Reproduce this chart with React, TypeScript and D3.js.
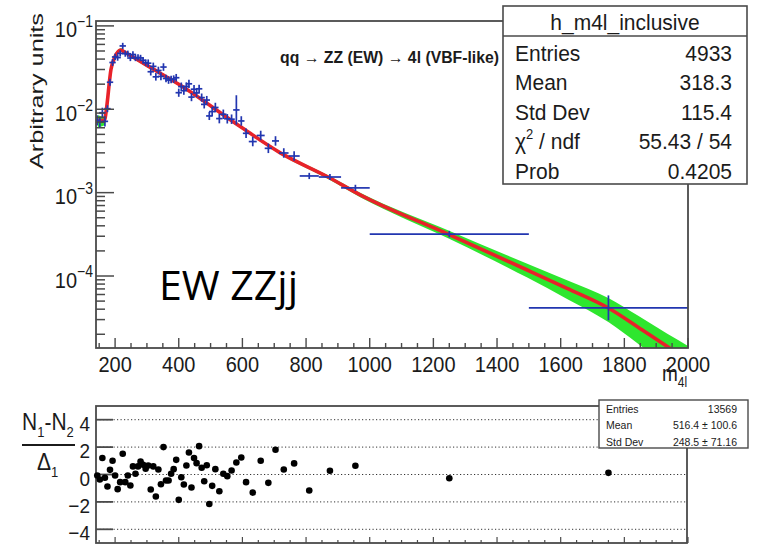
import React from 'react';
import * as d3 from 'd3';

// ---------- data ----------
const binEdges = [
  140, 148, 156, 164, 172, 180, 188, 196, 204, 212, 220, 228, 236, 244, 252, 260, 268, 276, 284, 292,
  300, 308, 316, 324, 332, 340, 348, 356, 364, 372, 380, 388, 396, 404, 412, 420, 428, 436, 444, 452,
  460, 468, 476, 484, 492, 500, 510, 520, 535, 545, 560, 572, 590, 603, 620, 645, 670, 693, 715, 745,
  780, 840, 910, 1000, 1500, 2000,
];

const dataValues = [
  7.36e-3, 7.0e-3, 9.08e-3, 7.16e-3, 1.016e-2, 2.11e-2, 3.64e-2, 4.24e-2, 4.17e-2, 4.68e-2,
  5.75e-2, 4.65e-2, 4.63e-2, 4.12e-2, 4.54e-2, 4.12e-2, 4.18e-2, 4.13e-2, 3.87e-2, 3.62e-2,
  3.57e-2, 2.82e-2, 3.27e-2, 2.45e-2, 2.92e-2, 2.48e-2, 3.21e-2, 2.34e-2, 2.24e-2, 2.28e-2,
  2.30e-2, 2.39e-2, 1.58e-2, 1.87e-2, 1.67e-2, 1.88e-2, 2.02e-2, 1.40e-2, 1.74e-2, 1.57e-2,
  1.76e-2, 1.38e-2, 1.145e-2, 1.29e-2, 8.32e-3, 9.38e-3, 1.05e-2, 7.73e-3, 8.71e-3, 7.69e-3,
  7.60e-3, 9.82e-3, 7.24e-3, 5.15e-3, 4.10e-3, 4.85e-3, 3.40e-3, 4.17e-3, 2.99e-3, 2.75e-3,
  1.585e-3, 1.54e-3, 1.14e-3, 3.18e-4, 4.15e-5,
];

const dataRelErr = [
  0.15, 0.15, 0.15, 0.15, 0.1, 0.1, 0.1, 0.09, 0.09, 0.09,
  0.09, 0.09, 0.09, 0.09, 0.09, 0.09, 0.09, 0.09, 0.09, 0.09,
  0.11, 0.11, 0.11, 0.11, 0.11, 0.11, 0.11, 0.11, 0.11, 0.11,
  0.11, 0.11, 0.12, 0.12, 0.12, 0.12, 0.12, 0.12, 0.12, 0.12,
  0.12, 0.12, 0.12, 0.12, 0.12, 0.14, 0.14, 0.14, 0.14, 0.14,
  0.14, 0.5, 0.14, 0.14, 0.14, 0.14, 0.14, 0.14, 0.14, 0.14,
  0.09, 0.09, 0.09, 0.095, 0.41,
];

const residuals = [
  -0.07, -0.37, 1.2, -0.24, -0.88, 0.34, 1.0, -0.07, -1.07, -0.56,
  1.51, -0.56, -0.07, -0.8, 0.59, 0.05, 0.59, 0.95, 0.71, 0.42,
  0.66, -1.1, 0.59, -1.61, 0.37, -0.71, 2.0, -0.44, -0.44, 0.05,
  0.39, 1.07, -1.85, -0.2, -0.73, 0.66, 1.61, -0.95, 1.2, 0.83,
  2.07, 0.49, -0.49, 0.68, -2.15, -0.83, 0.39, -1.22, 0.05, -0.12,
  0.29, 0.88, 1.24, -0.56, -1.32, 1.0, -0.61, 1.81, 0.37, 0.81,
  -1.17, 0.27, 0.64, -0.27, 0.12,
];

const fitMass = [146, 167, 172, 187, 200, 218, 228, 300, 404, 593, 719, 866, 970, 1253, 1495, 1620, 1751, 1841, 1935, 2000];
const fitValues = [
  7.3e-3, 7.3e-3, 9.5e-3, 3.0e-2, 4.3e-2, 5.15e-2, 4.9e-2, 3.36e-2, 1.95e-2, 6.2e-3,
  3.0e-3, 1.56e-3, 9.4e-4, 3.1e-4, 1.18e-4, 7.1e-5, 4.1e-5, 2.47e-5, 1.43e-5, 1.0e-5,
];

const bandMass = [146, 170, 190, 220, 400, 700, 1000, 1250, 1500, 1750, 2000];
const bandRelWidth = [0.16, 0.11, 0.07, 0.045, 0.035, 0.04, 0.065, 0.11, 0.19, 0.32, 0.45];

const xMajorTicks = [200, 400, 600, 800, 1000, 1200, 1400, 1600, 1800, 2000];
const yDecades = [-1, -2, -3, -4];
const residualTicks = [4, 2, 0, -2, -4];

const statsRows = [
  ['Entries', '4933'],
  ['Mean', '318.3'],
  ['Std Dev', '115.4'],
  ['chi2', '55.43 / 54'],
  ['Prob', '0.4205'],
];
const residualStatsRows = [
  ['Entries', '13569'],
  ['Mean', '516.4 \u00b1 100.6'],
  ['Std Dev', '248.5 \u00b1 71.16'],
];

// ---------- styling ----------
const FONT = "'Liberation Sans', Arial, Helvetica, sans-serif";
const INK = '#1b1b1b';
const FRAME = '#4a4a4a';
const BLUE = '#2236b0';
const RED = '#e8222a';
const GREEN = '#2ee62e';

function Txt(props: any) {
  const { x, y, size, sy = 1.12, anchor = 'start', weight = 'normal', family = FONT, fill = INK, tl, children } = props;
  const extra: any = tl ? { textLength: tl, lengthAdjust: 'spacingAndGlyphs' } : {};
  return (
    <text
      transform={`translate(${x},${y}) scale(1,${sy})`}
      fontSize={size}
      textAnchor={anchor}
      fontFamily={family}
      fontWeight={weight}
      fill={fill}
      {...extra}
    >
      {children}
    </text>
  );
}

export default function App() {
  const L = 96, R = 688, T = 21, B = 348;
  const x = d3.scaleLinear().domain([140, 2000]).range([L, R]);
  const y = d3.scaleLog().domain([1.369e-5, 0.1145]).range([B, T]);
  const RT = 406, RB = 543, RR = 687;
  const yr = d3.scaleLinear().domain([-5, 5]).range([RB, RT]);

  const bins = dataValues.map((v, i) => ({
    lo: binEdges[i],
    hi: binEdges[i + 1],
    c: (binEdges[i] + binEdges[i + 1]) / 2,
    v,
    e: dataRelErr[i],
    r: residuals[i],
  }));

  const fitPts = fitMass.map((m, i) => ({ m, v: fitValues[i] }));
  const bandS = d3.scaleLinear().domain(bandMass).range(bandRelWidth).clamp(true);

  const fitLine = d3
    .line<any>()
    .x((d) => x(d.m))
    .y((d) => y(d.v))
    .curve(d3.curveMonotoneX);
  const band = d3
    .area<any>()
    .x((d) => x(d.m))
    .y0((d) => y(Math.max(d.v * (1 - bandS(d.m)), 1e-7)))
    .y1((d) => y(d.v * (1 + bandS(d.m))))
    .curve(d3.curveMonotoneX);

  // log ticks
  const logTicks: { v: number; major: boolean }[] = [];
  for (let k = -5; k <= -1; k++) {
    for (let j = 1; j <= 9; j++) {
      const v = j * Math.pow(10, k);
      if (v >= y.domain()[0] && v <= y.domain()[1]) logTicks.push({ v, major: j === 1 });
    }
  }
  const xMinor = d3.range(150, 2001, 50);

  return (
    <svg width={760} height={545} style={{ position: 'absolute', left: 0, top: 0, background: '#fff' }}>
      <defs>
        <clipPath id="topclip">
          <rect x={L} y={T} width={R - L} height={B - T} />
        </clipPath>
      </defs>
      <rect x={0} y={0} width={760} height={545} fill="#fff" />

      {/* ---------- top panel ---------- */}
      <g clipPath="url(#topclip)">
        <path d={band(fitPts) || ''} fill={GREEN} />
        <path d={fitLine(fitPts) || ''} fill="none" stroke={RED} strokeWidth={3.6} strokeLinejoin="round" />
        {bins.map((b, i) => {
          const cx = x(b.c);
          const cy = y(b.v);
          const hw = Math.max((x(b.hi) - x(b.lo)) / 2, 3.2);
          return (
            <g key={i} stroke={BLUE} strokeWidth={1.7}>
              <line x1={cx - hw} x2={cx + hw} y1={cy} y2={cy} />
              <line x1={cx} x2={cx} y1={y(b.v * (1 + b.e))} y2={y(b.v / (1 + b.e))} />
            </g>
          );
        })}
      </g>

      {/* y ticks */}
      {logTicks.map((t, i) => (
        <line key={i} x1={L} x2={L + (t.major ? 18 : 9)} y1={y(t.v)} y2={y(t.v)} stroke={FRAME} strokeWidth={1.5} />
      ))}
      {/* x ticks */}
      {xMinor.map((m) => (
        <line
          key={m}
          x1={x(m)}
          x2={x(m)}
          y1={B}
          y2={B - (m % 200 === 0 ? 10 : 5)}
          stroke={FRAME}
          strokeWidth={1.4}
        />
      ))}
      {/* frame */}
      <rect x={L} y={T} width={R - L} height={B - T} fill="none" stroke={FRAME} strokeWidth={1.8} />

      {/* y tick labels */}
      {yDecades.map((k) => (
        <text
          key={k}
          transform={`translate(93,${y(Math.pow(10, k)) + 11.5}) scale(1,1.12)`}
          textAnchor="end"
          fontFamily={FONT}
          fontSize={20}
          fill={INK}
        >
          10
          <tspan dy={-9} fontSize={14}>
            {'\u2212' + Math.abs(k)}
          </tspan>
        </text>
      ))}
      {/* x tick labels */}
      {xMajorTicks.map((m) => (
        <Txt key={m} x={x(m)} y={371.5} size={20} anchor="middle">
          {m}
        </Txt>
      ))}
      {/* x axis title */}
      <text transform="translate(662,381) scale(1,1.2)" fontFamily={FONT} fontSize={19} fill={INK}>
        m
        <tspan dy={5} fontSize={12}>
          4l
        </tspan>
      </text>
      {/* y axis title */}
      <text
        transform="translate(43,91) rotate(-90)"
        textAnchor="middle"
        fontFamily={FONT}
        fontSize={18}
        fill={INK}
        textLength={156}
        lengthAdjust="spacingAndGlyphs"
      >
        Arbitrary units
      </text>

      {/* title */}
      <Txt x={280} y={63} size={15} weight="bold" sy={1.1} tl={219}>
        {'qq \u2192 ZZ (EW) \u2192 4l (VBF-like)'}
      </Txt>

      {/* EW ZZjj */}
      <Txt x={159} y={300} size={41} sy={1} family="'Open Sans', 'Noto Sans', sans-serif" fill="#000" tl={139}>
        EW ZZjj
      </Txt>

      {/* stats box */}
      <rect x={503} y={6} width={244} height={178} fill="#fff" stroke={FRAME} strokeWidth={1.6} />
      <line x1={503} x2={747} y1={36} y2={36} stroke={FRAME} strokeWidth={1.6} />
      <Txt x={625} y={30} size={21} anchor="middle" sy={1.05}>
        h_m4l_inclusive
      </Txt>
      {statsRows.map((r, i) => {
        const by = 60.5 + i * 29.5;
        return (
          <g key={i}>
            {r[0] === 'chi2' ? (
              <text transform={`translate(515,${by}) scale(1,1.08)`} fontFamily={FONT} fontSize={21} fill={INK}>
                {'\u03c7'}
                <tspan dy={-9} fontSize={13}>
                  2
                </tspan>
                <tspan dy={9}>{' / ndf'}</tspan>
              </text>
            ) : (
              <Txt x={515} y={by} size={21} sy={1.08}>
                {r[0]}
              </Txt>
            )}
            <Txt x={732} y={by} size={21} sy={1.08} anchor="end">
              {r[1]}
            </Txt>
          </g>
        );
      })}

      {/* ---------- residual panel ---------- */}
      {residualTicks.map((t) => (
        <g key={t}>
          <line x1={L} x2={RR} y1={yr(t)} y2={yr(t)} stroke="#333" strokeWidth={1} strokeDasharray="1.2 2.3" />
          <line x1={L} x2={L + 17} y1={yr(t)} y2={yr(t)} stroke={FRAME} strokeWidth={1.8} />
          <Txt x={90} y={yr(t) + 11} size={19} anchor="end" sy={1.1}>
            {t < 0 ? '\u2212' + Math.abs(t) : String(t)}
          </Txt>
        </g>
      ))}
      {xMinor.map((m) => (
        <line
          key={'r' + m}
          x1={x(m)}
          x2={x(m)}
          y1={RB}
          y2={RB - (m % 200 === 0 ? 6 : 3)}
          stroke={FRAME}
          strokeWidth={1.2}
        />
      ))}
      <rect x={L} y={RT} width={RR - L} height={RB - RT} fill="none" stroke={FRAME} strokeWidth={1.8} />
      {bins.map((b, i) => (
        <circle key={i} cx={x(b.c)} cy={yr(b.r)} r={3.3} fill="#000" />
      ))}

      {/* residual y title */}
      <text transform="translate(22,430) scale(1,1.1)" fontFamily={FONT} fontSize={21} fill={INK}>
        N
        <tspan dy={6} fontSize={13}>
          1
        </tspan>
        <tspan dy={-6}>-N</tspan>
        <tspan dy={6} fontSize={13}>
          2
        </tspan>
      </text>
      <line x1={22} x2={75} y1={445} y2={445} stroke={INK} strokeWidth={2} />
      <text transform="translate(37,470) scale(1,1.1)" fontFamily={FONT} fontSize={21} fill={INK}>
        {'\u0394'}
        <tspan dy={6} fontSize={13}>
          1
        </tspan>
      </text>

      {/* residual stats box */}
      <rect x={599} y={400} width={149} height={48} fill="#fff" stroke={FRAME} strokeWidth={1.4} />
      {residualStatsRows.map((r, i) => {
        const by = 412.5 + i * 16.5;
        return (
          <g key={i}>
            <Txt x={606} y={by} size={10.5} sy={1.1}>
              {r[0]}
            </Txt>
            <Txt x={737} y={by} size={10.5} sy={1.1} anchor="end">
              {r[1]}
            </Txt>
          </g>
        );
      })}
    </svg>
  );
}
